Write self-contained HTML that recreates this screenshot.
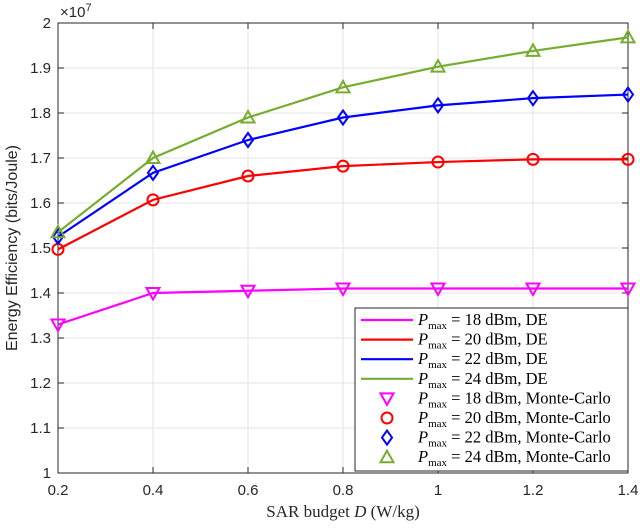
<!DOCTYPE html>
<html><head><meta charset="utf-8"><style>
body{margin:0;background:#fff;width:640px;height:525px;overflow:hidden}
text{font-family:"Liberation Sans",sans-serif}
.ser{font-family:"Liberation Serif",serif}
</style></head><body>
<svg id="chart" width="640" height="525" xmlns="http://www.w3.org/2000/svg">
<g id="grid"></g>
<g id="axes"></g>
<g id="series"></g>
<g id="legend"></g>
</svg>
<script>
const xValues=[0.2,0.4,0.6,0.8,1.0,1.2,1.4];
const xTicks=[0.2,0.4,0.6,0.8,1,1.2,1.4];
const yTicks=[1,1.1,1.2,1.3,1.4,1.5,1.6,1.7,1.8,1.9,2];
const s18=[1.33,1.40,1.405,1.41,1.41,1.41,1.41];
const s20=[1.497,1.607,1.66,1.682,1.691,1.697,1.697];
const s22=[1.525,1.667,1.74,1.79,1.817,1.833,1.841];
const s24=[1.535,1.70,1.79,1.857,1.903,1.938,1.968];
const seriesNames=["18","20","22","24"];
const NS="http://www.w3.org/2000/svg";
const L=58,R=628,T=23,B=473;
const xs=v=>L+(v-0.2)/1.2*(R-L);
const ys=v=>B-(v-1)/1*(B-T);
function mk(tag,attrs,parent){const e=document.createElementNS(NS,tag);for(const k in attrs)e.setAttribute(k,attrs[k]);parent.appendChild(e);return e;}
const grid=document.getElementById('grid'),axes=document.getElementById('axes'),ser=document.getElementById('series'),leg=document.getElementById('legend');
xTicks.forEach(t=>{const l=mk('line',{x1:xs(t),x2:xs(t),y1:T,y2:B,stroke:'#e3e3e3','stroke-width':1},grid);

const tx=mk('text',{x:xs(t),y:B+22,'text-anchor':'middle','font-size':15,fill:'#262626'},axes);tx.textContent=String(t);

mk('line',{x1:xs(t),x2:xs(t),y1:B,y2:B-6,stroke:'#262626'},axes);mk('line',{x1:xs(t),x2:xs(t),y1:T,y2:T+6,stroke:'#262626'},axes);});
yTicks.forEach(t=>{const l=mk('line',{x1:L,x2:R,y1:ys(t),y2:ys(t),stroke:'#e3e3e3','stroke-width':1},grid);

const tx=mk('text',{x:L-7,y:ys(t)+5,'text-anchor':'end','font-size':15,fill:'#262626'},axes);tx.textContent=(t===1||t===2)?String(t):t.toFixed(1);

mk('line',{x1:L,x2:L+6,y1:ys(t),y2:ys(t),stroke:'#262626'},axes);mk('line',{x1:R,x2:R-6,y1:ys(t),y2:ys(t),stroke:'#262626'},axes);});
const fr=mk('rect',{x:L,y:T,width:R-L,height:B-T,fill:'none',stroke:'#262626','stroke-width':1},axes);

const ex=mk('text',{x:L+2,y:T-6,'font-size':15,fill:'#262626'},axes);ex.innerHTML='×10<tspan dy="-6" font-size="11">7</tspan>';

const xt=mk('text',{x:(L+R)/2,y:517,'text-anchor':'middle','font-size':17,fill:'#262626',class:'ser'},axes);xt.innerHTML='SAR budget <tspan font-style="italic">D</tspan> (W/kg)';

const yt=mk('text',{x:0,y:0,'text-anchor':'middle','font-size':16,fill:'#262626',transform:`translate(17,${(T+B)/2}) rotate(-90)`},axes);yt.textContent='Energy Efficiency (bits/Joule)';

const colors=['#ff00ff','#ff0000','#0000ff','#77ac30'];
const markers=['tridown','circle','diamond','triup'];
function marker(type,x,y,c,p){const a={fill:'none',stroke:c,'stroke-width':2};
if(type==='circle')return mk('circle',Object.assign({cx:x,cy:y,r:5.5},a),p);
let pts;if(type==='diamond')pts=[[x,y-7],[x+5,y],[x,y+7],[x-5,y]];
else if(type==='triup')pts=[[x,y-6.5],[x+6.5,y+5],[x-6.5,y+5]];
else pts=[[x,y+6.5],[x+6.5,y-5],[x-6.5,y-5]];
return mk('polygon',Object.assign({points:pts.map(q=>q.join(',')).join(' ')},a),p);}
[s18,s20,s22,s24].forEach((s,i)=>{
const pl=mk('polyline',{points:s.map((v,j)=>xs(xValues[j])+','+ys(v)).join(' '),fill:'none',stroke:colors[i],'stroke-width':2.2},ser);

s.forEach((v,j)=>{const m=marker(markers[i],xs(xValues[j]),ys(v),colors[i],ser);
});});
const lb=mk('rect',{x:355,y:308,width:273,height:163,fill:'#fff',stroke:'#262626','stroke-width':1},leg);

for(let k=0;k<8;k++){const y=320+k*19.6;const i=k%4;const g=mk('g',{},leg);

if(k<4)mk('line',{x1:361,x2:413,y1:y,y2:y,stroke:colors[i],'stroke-width':2.2},g);else marker(markers[i],387,y,colors[i],g);
const t=mk('text',{x:418,y:y+5,'font-size':16.5,fill:'#000',class:'ser'},g);
t.innerHTML='<tspan font-style="italic">P</tspan><tspan font-size="11" dy="4">max</tspan><tspan dy="-4"> = '+seriesNames[i]+' dBm, '+(k<4?'DE':'Monte-Carlo')+'</tspan>';}
</script>
</body></html>
